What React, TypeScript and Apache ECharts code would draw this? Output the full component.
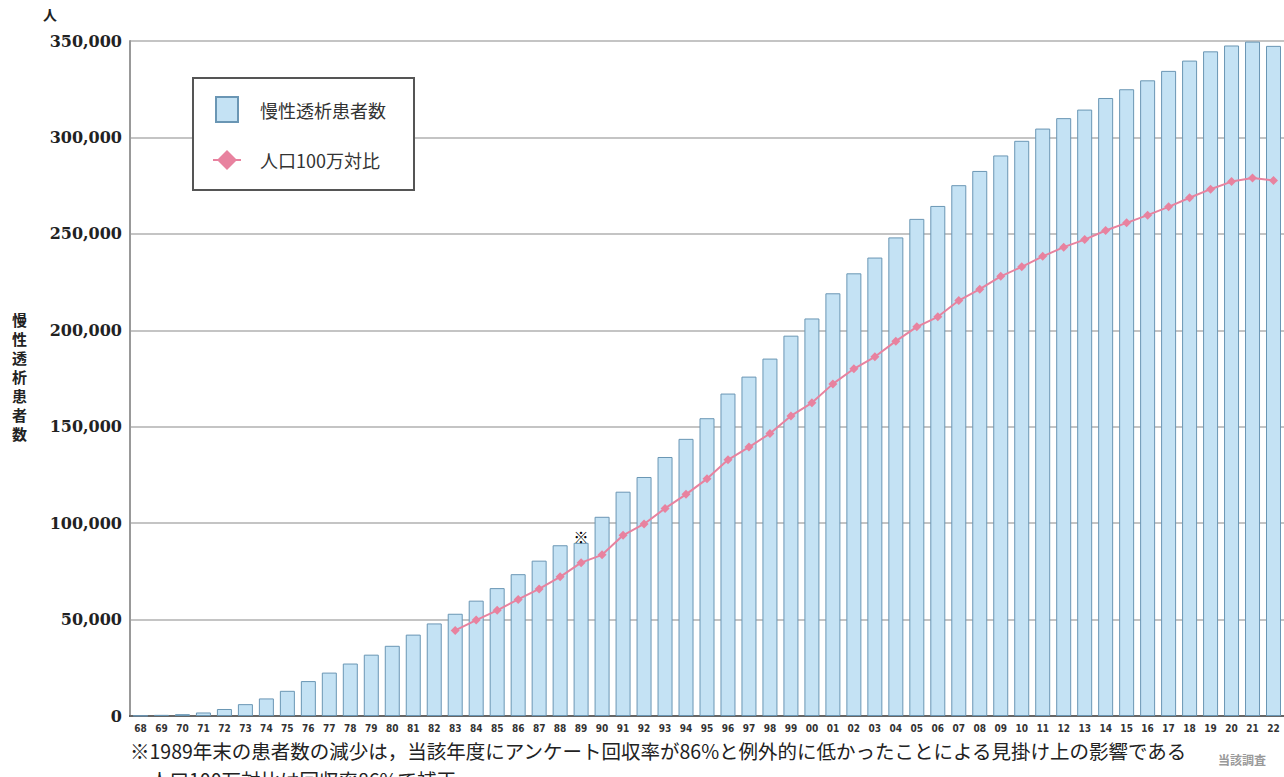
import React, { useEffect, useRef } from "react";
import * as echarts from "echarts";

const years = [
  "68","69","70","71","72","73","74","75","76","77","78","79","80","81","82","83","84","85","86","87",
  "88","89","90","91","92","93","94","95","96","97","98","99","00","01","02","03","04","05","06","07",
  "08","09","10","11","12","13","14","15","16","17","18","19","20","21","22",
];

// 慢性透析患者数 (人)
const patients = [
  215, 599, 949, 1826, 3631, 6148, 9107, 13059, 18101, 22500, 27200, 31800, 36400, 42200, 48000,
  53017, 59811, 66310, 73537, 80553, 88534, 89792, 103296, 116303, 123926, 134298, 143709, 154413,
  167192, 175988, 185322, 197213, 206134, 219183, 229538, 237710, 248166, 257765, 264473, 275242,
  282622, 290661, 298252, 304592, 310007, 314438, 320448, 324986, 329609, 334505, 339841, 344640,
  347671, 349700, 347474,
];

// 人口100万対比 (1983年以降)
const perMillion = [
  null, null, null, null, null, null, null, null, null, null, null, null, null, null, null,
  443.7, 497.5, 547.8, 604.5, 658.9, 721.6, 795.0, 835.6, 937.1, 995.8, 1076.4, 1149.4, 1229.8,
  1328.3, 1394.6, 1464.6, 1556.0, 1624.1, 1722.1, 1800.5, 1862.7, 1943.7, 2018.0, 2069.9, 2154.2,
  2213.4, 2279.7, 2329.1, 2383.3, 2431.2, 2470.1, 2517.3, 2557.0, 2597.0, 2640.0, 2687.4, 2731.6,
  2771.0, 2790.0, 2777.0,
];

const noteYear = "89";
const barName = "慢性透析患者数";
const lineName = "人口100万対比";
const yAxisName = "慢性透析患者数";
const unitLabel = "人";
const footnote1 =
  "※1989年末の患者数の減少は，当該年度にアンケート回収率が86%と例外的に低かったことによる見掛け上の影響である";
const footnote2 = "人口100万対比は回収率86%で補正";
const sourceText = "当該調査";

export default function App() {
  const ref = useRef<HTMLDivElement>(null);

  useEffect(() => {
    if (!ref.current) return;
    const chart = echarts.init(ref.current, undefined, { renderer: "svg" });
    const jp = "'Noto Sans CJK JP', 'Noto Sans', sans-serif";

    const barData = patients.map((v, i) =>
      years[i] === noteYear
        ? {
            value: v,
            label: {
              show: true,
              formatter: "※",
              position: "top",
              distance: -1,
              fontSize: 15,
              fontWeight: "bold",
              color: "#000",
              fontFamily: jp,
            },
          }
        : v
    );

    const nameChars = yAxisName.split("").map((ch, i) => ({
      type: "text",
      left: 12,
      top: 312 + i * 19,
      style: { text: ch, fontSize: 15, fontWeight: "bold", fill: "#222", fontFamily: jp },
    }));

    chart.setOption({
      animation: false,
      backgroundColor: "#ffffff",
      grid: { left: 130, right: 0, top: 41, bottom: 61, containLabel: false },
      legend: {
        orient: "vertical",
        left: 193,
        top: 78,
        padding: [18, 28, 20, 19],
        itemGap: 27,
        itemWidth: 28,
        itemHeight: 25,
        borderColor: "#555",
        borderWidth: 2,
        backgroundColor: "#fff",
        textStyle: { fontSize: 18, color: "#333", fontFamily: jp, padding: [0, 0, 0, 14] },
        data: [
          { name: barName, icon: "path://M0,0h22v25h-22z" },
          { name: lineName },
        ],
      },
      xAxis: [
        {
          type: "category",
          data: years,
          position: "bottom",
          axisLine: { show: true, lineStyle: { color: "#333", width: 2 } },
          axisTick: { show: false },
          axisLabel: {
            interval: 0,
            fontSize: 10,
            fontWeight: "bold",
            color: "#333",
            margin: 7,
            fontFamily: "'DejaVu Sans Condensed', 'DejaVu Sans', sans-serif",
          },
        },
        {
          type: "category",
          data: years,
          position: "top",
          axisLine: { show: true, lineStyle: { color: "#666", width: 2 } },
          axisTick: { show: false },
          axisLabel: { show: false },
        },
      ],
      yAxis: [
        {
          type: "value",
          min: 0,
          max: 350000,
          interval: 50000,
          axisLine: { show: true, lineStyle: { color: "#999", width: 2 } },
          axisTick: { show: false },
          splitLine: { show: true, lineStyle: { color: "#c4c4c4", width: 2 } },
          axisLabel: {
            formatter: (v: number) => v.toLocaleString("en-US"),
            fontSize: 16,
            fontWeight: "bold",
            color: "#222",
            margin: 8,
            fontFamily: "'DejaVu Serif', serif",
          },
        },
        {
          type: "value",
          min: 0,
          max: 3500,
          show: false,
          splitLine: { show: false },
        },
      ],
      series: [
        {
          name: barName,
          type: "bar",
          xAxisIndex: 0,
          yAxisIndex: 0,
          data: barData,
          barWidth: 15,
          itemStyle: { color: "#c4e2f4", borderColor: "#6a96b4", borderWidth: 1 },
        },
        {
          name: lineName,
          type: "line",
          xAxisIndex: 0,
          yAxisIndex: 1,
          data: perMillion,
          symbol: "diamond",
          symbolSize: 9,
          lineStyle: { color: "#e8829f", width: 2 },
          itemStyle: { color: "#e8829f" },
          z: 5,
        },
      ],
      graphic: [
        {
          type: "text",
          left: 43,
          top: 7,
          style: { text: unitLabel, fontSize: 14, fontWeight: "bold", fill: "#222", fontFamily: jp },
        },
        ...nameChars,
        {
          type: "text",
          left: 130,
          top: 741,
          style: { text: footnote1, fontSize: 19.5, fill: "#222", fontFamily: jp },
        },
        {
          type: "text",
          left: 150,
          top: 770,
          style: { text: footnote2, fontSize: 19.5, fill: "#222", fontFamily: jp },
        },
        {
          type: "text",
          left: 1218,
          top: 753,
          style: { text: sourceText, fontSize: 12, fontWeight: "bold", fill: "#999", fontFamily: jp },
        },
      ],
    });

    return () => chart.dispose();
  }, []);

  return (
    <div
      ref={ref}
      style={{ position: "absolute", left: 0, top: 0, width: 1284, height: 777 }}
    />
  );
}
